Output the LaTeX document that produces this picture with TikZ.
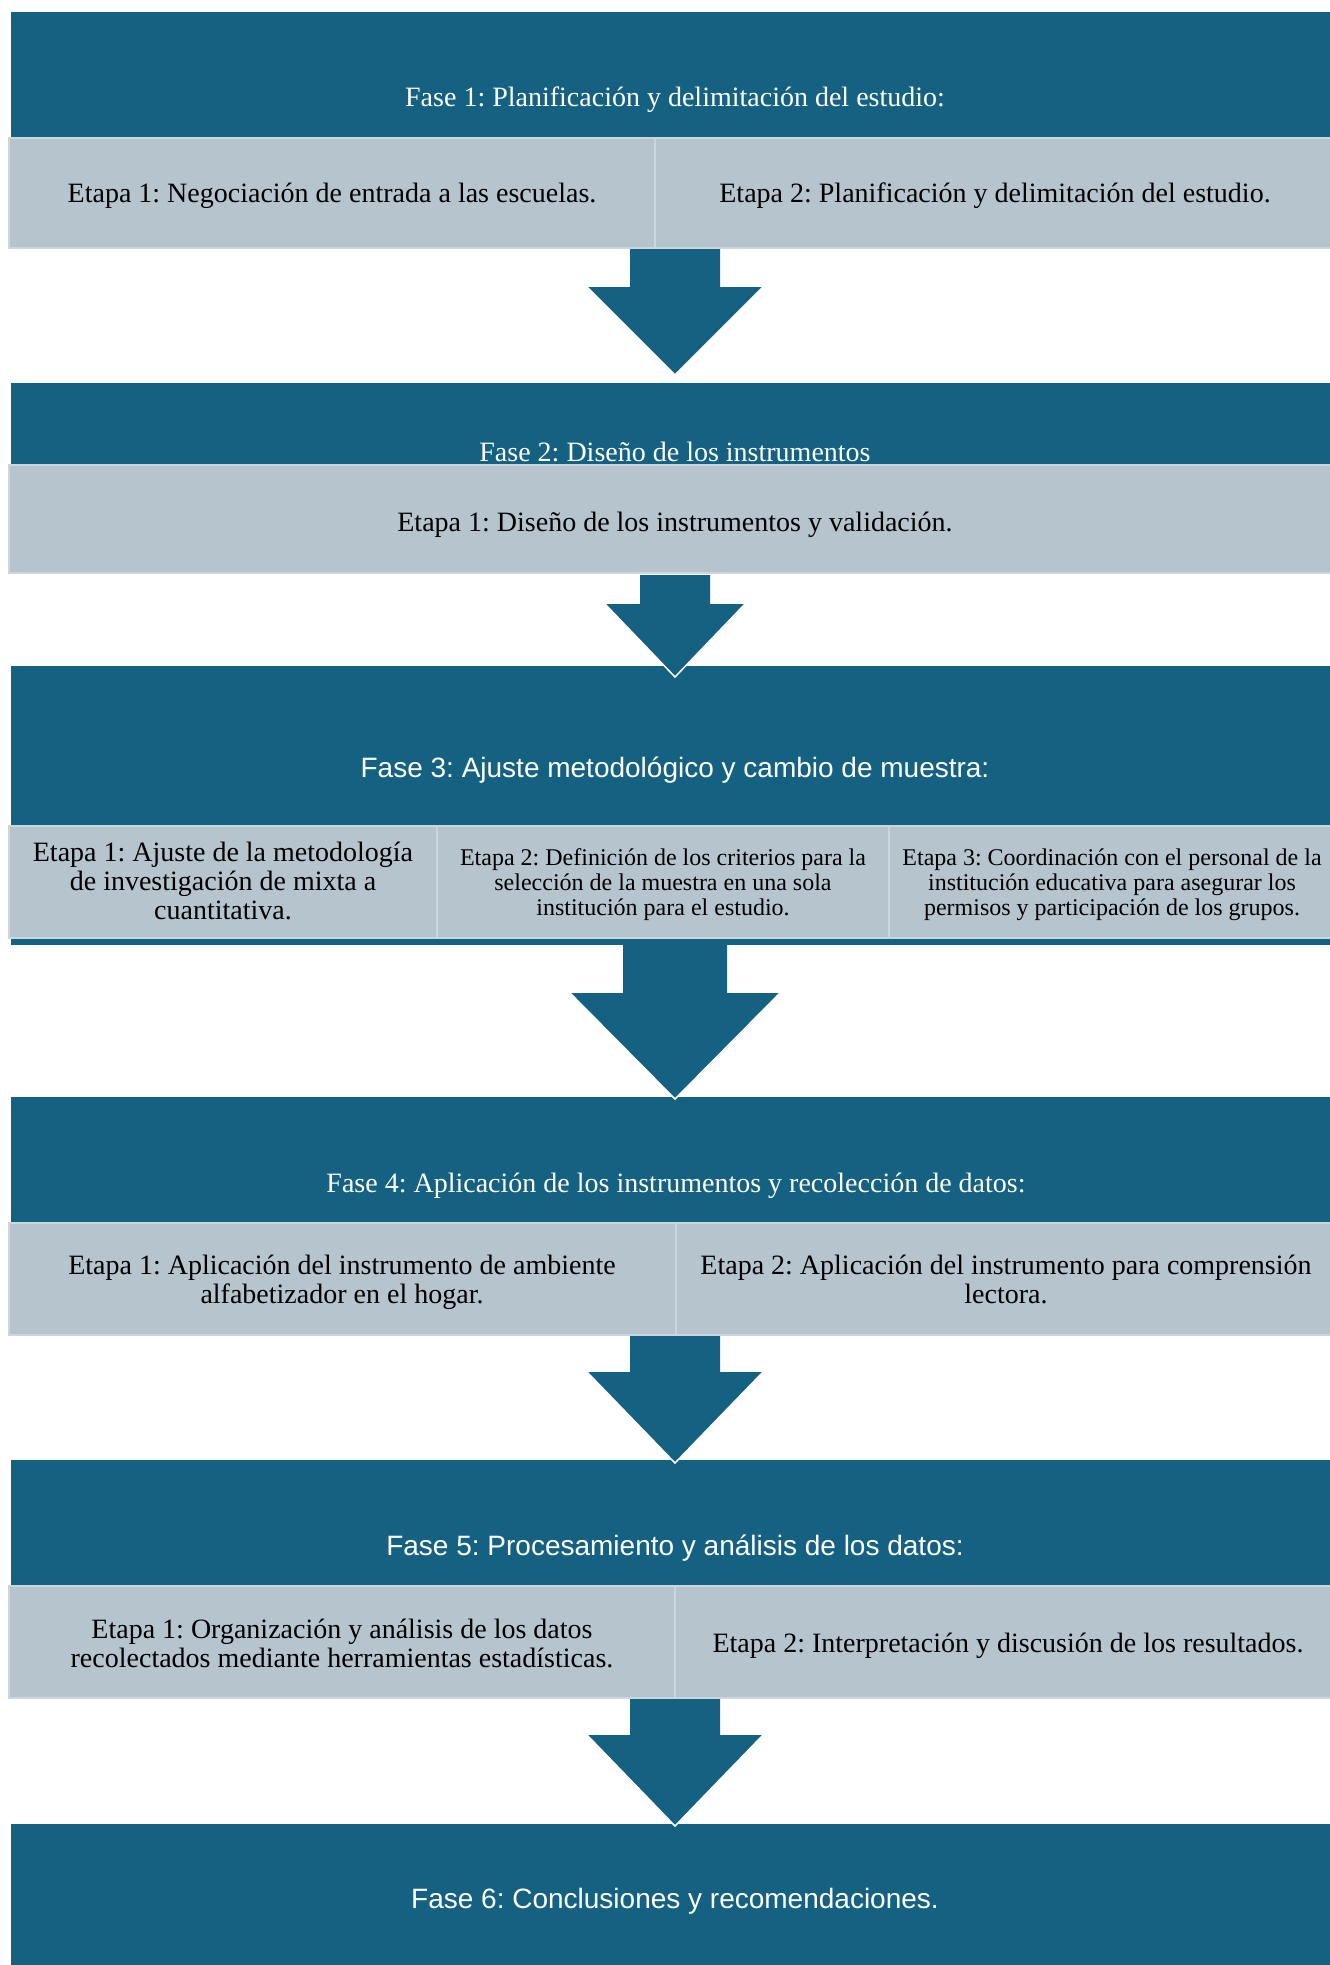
\documentclass[tikz,border=0pt]{standalone}
\usepackage{fontspec}
\setmainfont{Liberation Serif}
\newfontfamily\arialf{Liberation Sans}
\usetikzlibrary{calc}
\frenchspacing
\definecolor{darkteal}{HTML}{146182}
\definecolor{lightcell}{HTML}{B6C4CE}
\definecolor{celledge}{HTML}{CDD6DF}
\tikzset{
  phasebox/.style={fill=darkteal, draw=none, inner sep=0pt, outer sep=0pt, anchor=north west},
  cellbox/.style={fill=lightcell, draw=celledge, line width=1.5pt, inner sep=0pt, outer sep=0pt, anchor=north west},
  phasetxt/.style={text=white, font=\frenchspacing\fontsize{28}{29}\selectfont, anchor=base, inner sep=0pt},
  phasesans/.style={text=white, font=\frenchspacing\arialf\fontsize{28}{29}\selectfont, anchor=base, inner sep=0pt},
  celltxt/.style={text=black, font=\frenchspacing\fontsize{28}{29}\selectfont, anchor=base, inner sep=0pt, align=center},
  cellsmall/.style={text=black, font=\frenchspacing\fontsize{24}{25}\selectfont, anchor=base, inner sep=0pt, align=center},
  arrowfill/.style={fill=darkteal, draw=none},
  arrowedge/.style={draw=white, line width=1.5pt}
}
\newcommand\blockarr[5]{%
  \fill[arrowfill] ($(#1)+(-#3,0)$) -- ($(#1)+(#3,0)$) -- ($(#2)+(#3,-#5)$) -- ($(#2)+(#4,-#5)$) -- (#2) -- ($(#2)+(-#4,-#5)$) -- ($(#2)+(-#3,-#5)$) -- cycle;
  \draw[arrowedge] ($(#2)+(#4,-#5)$) -- (#2) -- ($(#2)+(-#4,-#5)$);
}
\begin{document}
\begin{tikzpicture}[x=1pt,y=-1pt]
\useasboundingbox[fill=white] (0,0) rectangle (1330,1965);
% Phase boxes
\node[phasebox, minimum width=1325pt, minimum height=237pt] (p1) at (11,12) {};
\node[cellbox, minimum width=646pt, minimum height=110pt] (c11) at (9,138) {};
\node[cellbox, minimum width=680pt, minimum height=110pt] (c12) at (655,138) {};

\node[phasebox, minimum width=1325pt, minimum height=191pt] (p2) at (11,383) {};
\node[cellbox, minimum width=1326pt, minimum height=108pt] (c21) at (9,465) {};

\node[phasebox, minimum width=1325pt, minimum height=279pt] (p3) at (11,666) {};
\node[cellbox, minimum width=428pt, minimum height=112pt] (c31) at (9,826) {};
\node[cellbox, minimum width=452pt, minimum height=112pt] (c32) at (437,826) {};
\node[cellbox, minimum width=446pt, minimum height=112pt] (c33) at (889,826) {};

\node[phasebox, minimum width=1325pt, minimum height=238pt] (p4) at (11,1097) {};
\node[cellbox, minimum width=667pt, minimum height=112pt] (c41) at (9,1223) {};
\node[cellbox, minimum width=659pt, minimum height=112pt] (c42) at (676,1223) {};

\node[phasebox, minimum width=1325pt, minimum height=238pt] (p5) at (11,1460) {};
\node[cellbox, minimum width=666pt, minimum height=112pt] (c51) at (9,1586) {};
\node[cellbox, minimum width=660pt, minimum height=112pt] (c52) at (675,1586) {};

\node[phasebox, minimum width=1325pt, minimum height=150pt] (p6) at (11,1824) {};

% Arrows
\coordinate (a1s) at (675,249);  \coordinate (a1t) at (675,375);
\coordinate (a2s) at (675,575);  \coordinate (a2t) at (675,677);
\coordinate (a3s) at (675,945);  \coordinate (a3t) at (675,1099);
\coordinate (a4s) at (675,1336); \coordinate (a4t) at (675,1463);
\coordinate (a5s) at (675,1699); \coordinate (a5t) at (675,1826);
\blockarr{a1s}{a1t}{45}{88}{88}
\blockarr{a2s}{a2t}{35}{70}{73}
\blockarr{a3s}{a3t}{52}{105}{106}
\blockarr{a4s}{a4t}{45}{88}{91}
\blockarr{a5s}{a5t}{45}{88}{91}

% Texts
\node[phasetxt] (t1) at (675,106) {Fase 1: Planificación y delimitación del estudio:};
\node[celltxt] (e11) at (332,202) {Etapa 1: Negociación de entrada a las escuelas.};
\node[celltxt] (e12) at (995,202) {Etapa 2: Planificación y delimitación del estudio.};

\node[phasetxt] (t2) at (675,461) {Fase 2: Diseño de los instrumentos};
\node[celltxt] (e21) at (675,531) {Etapa 1: Diseño de los instrumentos y validación.};

\node[phasesans] (t3) at (675,777) {Fase 3: Ajuste metodológico y cambio de muestra:};
\node[celltxt] (e31) at (223,919) {Etapa 1: Ajuste de la metodología\\de investigación de mixta a\\cuantitativa.};
\node[cellsmall] (e32) at (663,915) {Etapa 2: Definición de los criterios para la\\selección de la muestra en una sola\\institución para el estudio.};
\node[cellsmall] (e33) at (1112,915) {Etapa 3: Coordinación con el personal de la\\institución educativa para asegurar los\\permisos y participación de los grupos.};

\node[phasetxt] (t4) at (676,1192) {Fase 4: Aplicación de los instrumentos y recolección de datos:};
\node[celltxt] (e41) at (342,1303) {Etapa 1: Aplicación del instrumento de ambiente\\alfabetizador en el hogar.};
\node[celltxt] (e42) at (1006,1303) {Etapa 2: Aplicación del instrumento para comprensión\\lectora.};

\node[phasesans] (t5) at (675,1555) {Fase 5: Procesamiento y análisis de los datos:};
\node[celltxt] (e51) at (342,1667) {Etapa 1: Organización y análisis de los datos\\recolectados mediante herramientas estadísticas.};
\node[celltxt] (e52) at (1008,1652) {Etapa 2: Interpretación y discusión de los resultados.};

\node[phasesans] (t6) at (675,1908) {Fase 6: Conclusiones y recomendaciones.};
\end{tikzpicture}
\end{document}
